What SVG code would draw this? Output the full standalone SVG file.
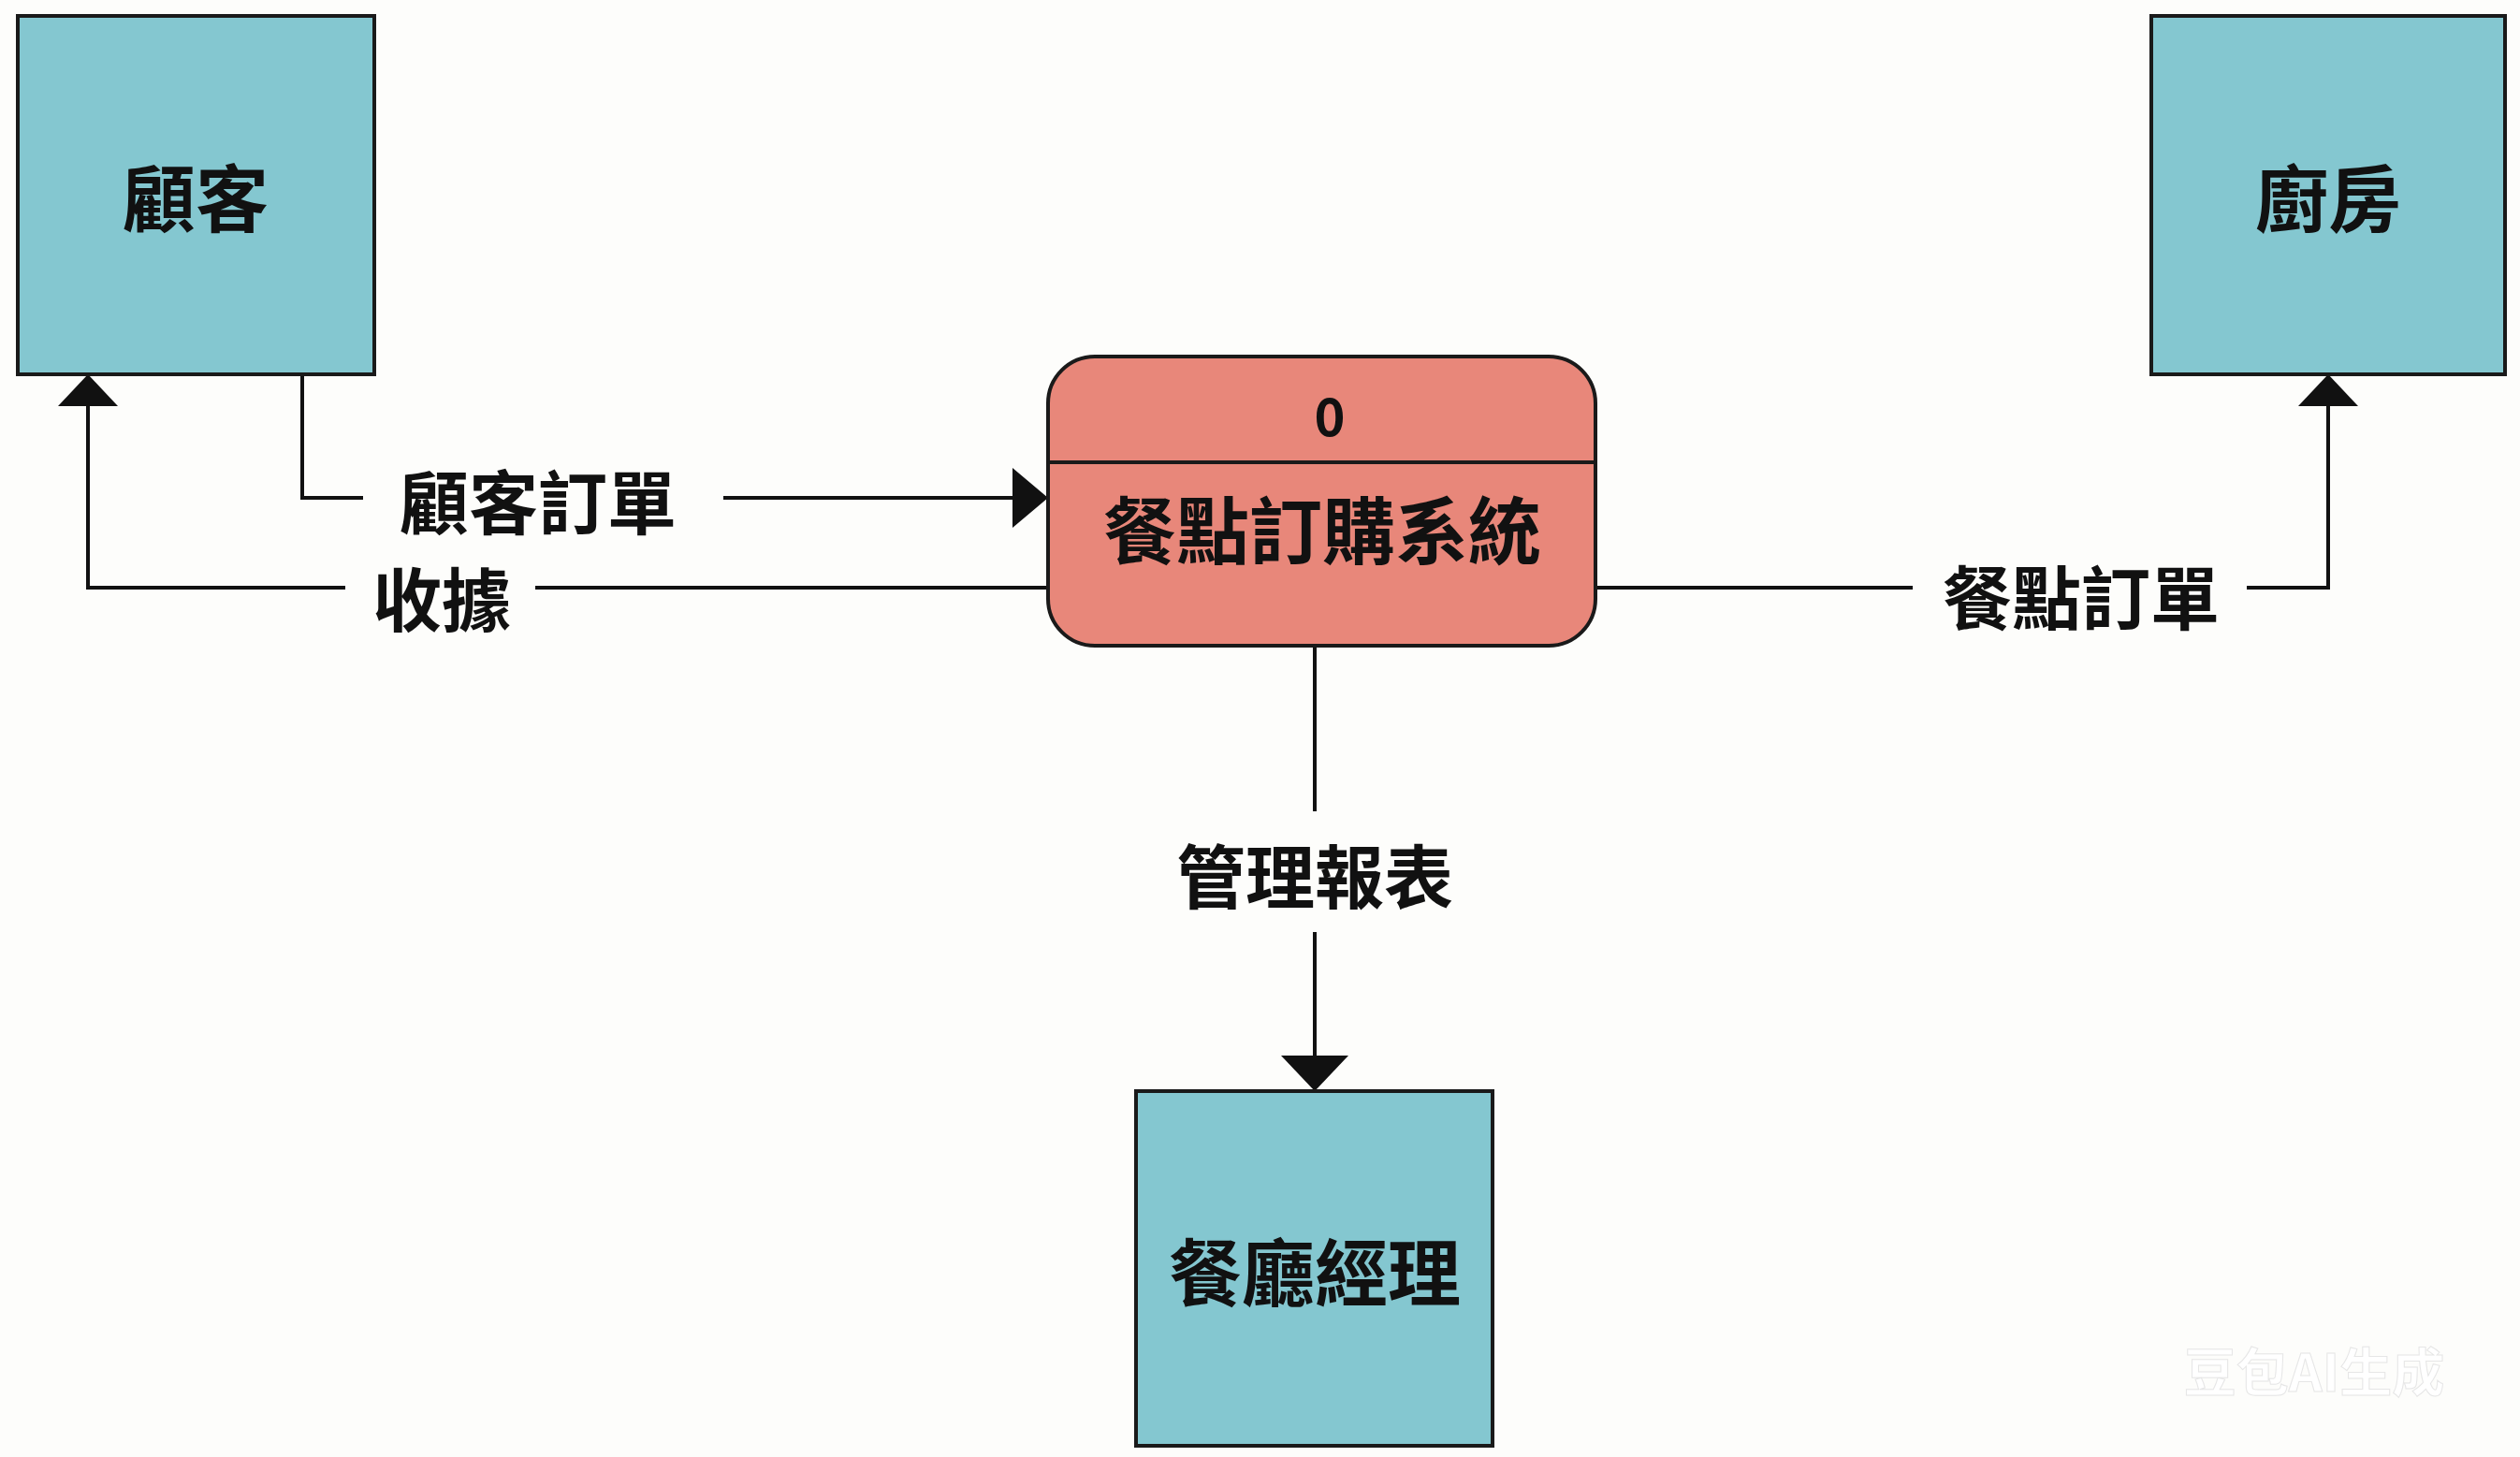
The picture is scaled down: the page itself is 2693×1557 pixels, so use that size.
<svg xmlns="http://www.w3.org/2000/svg" width="2693" height="1557" viewBox="0 0 2693 1557">
<style>
.ent{fill:#84C7D0;stroke:#1a1a1a;stroke-width:4}
.t{font-family:"Noto Sans CJK TC","Noto Sans CJK SC",sans-serif;font-weight:bold;fill:#111;text-anchor:middle;dominant-baseline:central}
.el{font-size:78px}
.cl{font-size:74px;font-weight:600}
.ln{fill:none;stroke:#111;stroke-width:4}
</style>
<rect width="2693" height="1557" fill="#FDFDFB"/>
<g id="connectors">
<path class="ln" d="M323,400 V532 H388 M773,532 H1090"/>
<path d="M1120,532 L1082,500 L1082,564 Z" fill="#111"/>
<path class="ln" d="M1120,628 H572 M369,628 H94 V430"/>
<path d="M94,400 L62,434 L126,434 Z" fill="#111"/>
<path class="ln" d="M1695,628 H2044 M2401,628 H2488 V430"/>
<path d="M2488,400 L2456,434 L2520,434 Z" fill="#111"/>
<path class="ln" d="M1405,690 V867 M1405,996 V1136"/>
<path d="M1405,1166 L1369,1128 L1441,1128 Z" fill="#111"/>
<text class="t cl" x="575" y="532">顧客訂單</text>
<text class="t cl" x="472" y="636">收據</text>
<text class="t cl" x="2224" y="634">餐點訂單</text>
<text class="t cl" x="1405" y="932">管理報表</text>
</g>
<g id="customer"><rect class="ent" x="19" y="17" width="381" height="383"/><text class="t el" x="209" y="208">顧客</text></g>
<g id="kitchen"><rect class="ent" x="2299" y="17" width="378" height="383"/><text class="t el" x="2488" y="208">廚房</text></g>
<g id="manager"><rect class="ent" x="1214" y="1166" width="381" height="379"/><text class="t el" x="1405" y="1356">餐廳經理</text></g>
<g id="process">
<rect x="1120" y="381" width="585" height="309" rx="50" fill="#E8877A" stroke="#1a1a1a" stroke-width="4"/>
<line x1="1120" y1="494" x2="1705" y2="494" stroke="#1a1a1a" stroke-width="4"/>
<text class="t" x="1421" y="441" font-size="56">0</text>
<text class="t el" x="1413" y="563">餐點訂購系統</text>
</g>
<text x="2473" y="1462" font-family="Noto Sans CJK SC,sans-serif" font-weight="bold" font-size="56" fill="#ffffff" stroke="#e6e6e6" stroke-width="1" text-anchor="middle" dominant-baseline="central">豆包AI生成</text>
</svg>
